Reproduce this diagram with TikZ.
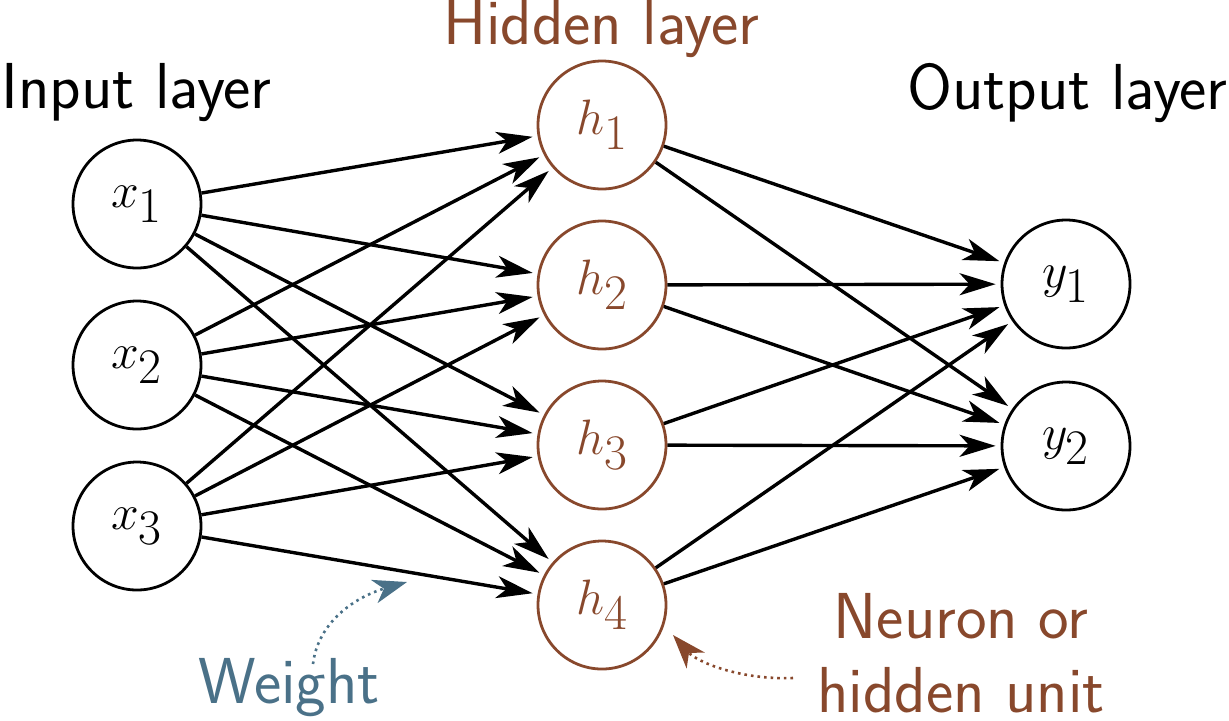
\documentclass[tikz,border=0pt]{standalone}
\usetikzlibrary{arrows.meta}
\definecolor{hidbrown}{RGB}{136,72,44}
\definecolor{wblue}{RGB}{74,113,136}
\begin{document}
\begin{tikzpicture}[x=0.5pt,y=-0.5pt,
  neuron/.style={circle,draw,line width=1.4pt,minimum size=64pt,inner sep=0pt,font=\fontsize{33}{39}\selectfont},
  hid/.style={neuron,draw=hidbrown,text=hidbrown},
  lbl/.style={font=\sffamily\fontsize{32.5}{37}\selectfont,inner sep=0pt},
  edge/.style={line width=1.7pt,-{Stealth[length=18pt,width=11pt,inset=5pt]},shorten >=2.5pt},
  note/.style={line width=1.3pt,dotted,-{Stealth[length=17pt,width=12pt,inset=5pt]}}]
\useasboundingbox (0,0) rectangle (1229,720);
\node[neuron] (x1) at (137,204) {$x_1$};
\node[neuron] (x2) at (137,365) {$x_2$};
\node[neuron] (x3) at (137,526) {$x_3$};
\node[hid] (h1) at (602,125) {$h_1$};
\node[hid] (h2) at (602,285) {$h_2$};
\node[hid] (h3) at (602,445) {$h_3$};
\node[hid] (h4) at (602,605) {$h_4$};
\node[neuron] (y1) at (1066,284) {$y_1$};
\node[neuron] (y2) at (1066,446) {$y_2$};
\foreach \i in {1,2,3}{\foreach \j in {1,2,3,4}{\draw[edge] (x\i) -- (h\j);}}
\foreach \j in {1,2,3,4}{\foreach \k in {1,2}{\draw[edge] (h\j) -- (y\k);}}
\node[lbl,anchor=base west] (tin) at (1,108) {Input layer};
\node[lbl,anchor=base,text=hidbrown] (thid) at (601,44) {Hidden layer};
\node[lbl,anchor=base east] (tout) at (1228,109) {Output layer};
\node[lbl,anchor=base west,text=wblue] (tw) at (198,703) {Weight};
\node[lbl,anchor=base,text=hidbrown,align=center] (tn) at (961,712) {Neuron or\\hidden unit};
\coordinate (ws) at (313,664);
\coordinate (we) at (407,582);
\coordinate (ns) at (793,678);
\coordinate (ne) at (673,635);
\draw[note,wblue] (ws) .. controls (318,622) and (355,597) .. (we);
\draw[note,hidbrown] (ns) .. controls (740,680) and (697,662) .. (ne);
\end{tikzpicture}
\end{document}
